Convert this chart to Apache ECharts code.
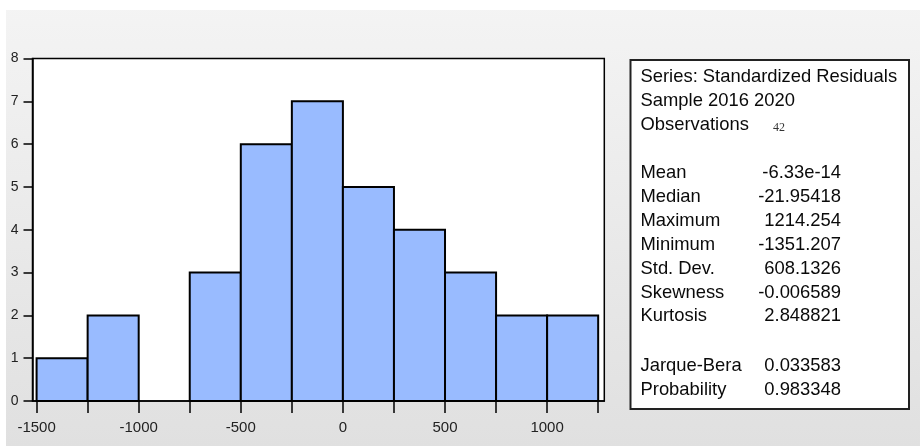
<!DOCTYPE html>
<html>
<head>
<meta charset="utf-8">
<script src="https://cdn.jsdelivr.net/npm/echarts@6/dist/echarts.min.js"></script>
<style>
html,body{margin:0;padding:0;background:#fff;}
#chart{width:920px;height:446px;}
</style>
</head>
<body>
<div id="chart"></div>
<script>
// ---- data ----
const binStarts = [-1500, -1250, -1000, -750, -500, -250, 0, 250, 500, 750, 1000];
const binWidth = 250;
const counts = [1, 2, 0, 3, 6, 7, 5, 4, 3, 2, 2];
const xTickValues = [-1500, -1250, -1000, -750, -500, -250, 0, 250, 500, 750, 1000, 1250];
const xLabelValues = [-1500, -1000, -500, 0, 500, 1000];
const yTickValues = [0, 1, 2, 3, 4, 5, 6, 7, 8];
const headerLines = ['Series: Standardized Residuals', 'Sample 2016 2020', 'Observations'];
const observations = '42';
const statNames = ['Mean', 'Median', 'Maximum', 'Minimum', 'Std. Dev.', 'Skewness', 'Kurtosis'];
const statValues = ['-6.33e-14', '-21.95418', '1214.254', '-1351.207', '608.1326', '-0.006589', '2.848821'];
const testNames = ['Jarque-Bera', 'Probability'];
const testValues = ['0.033583', '0.983348'];

const histData = binStarts.map((s, i) => [s, s + binWidth, counts[i]]);

const FONT = '"Liberation Sans", Arial, sans-serif';
const TXT = '#0a0a0a';
const statFont = 18.4;

const graphics = [];
// white strips at top and left
graphics.push({type:'rect', z:-10, shape:{x:0,y:0,width:920,height:10}, style:{fill:'#ffffff'}});
graphics.push({type:'rect', z:-10, shape:{x:0,y:0,width:6,height:446}, style:{fill:'#ffffff'}});
// stats box
graphics.push({type:'rect', shape:{x:630.5,y:60,width:278.5,height:349}, style:{fill:'#ffffff', stroke:'#222', lineWidth:2}});
const lx = 640.5, rx = 841;
const hdrY = [77, 101, 125];
headerLines.forEach((t, i) => {
  graphics.push({type:'text', x:lx, y:hdrY[i], style:{text:t, font:`${statFont}px ${FONT}`, fill:TXT, textVerticalAlign:'middle', textAlign:'left'}});
});
graphics.push({type:'text', x:773, y:128, style:{text:observations, font:`12px "Liberation Serif", serif`, fill:'#333', textVerticalAlign:'middle', textAlign:'left'}});
const statY0 = 173, step = 23.9;
statNames.forEach((t, i) => {
  const y = statY0 + i * step;
  graphics.push({type:'text', x:lx, y:y, style:{text:t, font:`${statFont}px ${FONT}`, fill:TXT, textVerticalAlign:'middle', textAlign:'left'}});
  graphics.push({type:'text', x:rx, y:y, style:{text:statValues[i], font:`${statFont}px ${FONT}`, fill:TXT, textVerticalAlign:'middle', textAlign:'right'}});
});
const testY0 = 366;
testNames.forEach((t, i) => {
  const y = testY0 + i * step;
  graphics.push({type:'text', x:lx, y:y, style:{text:t, font:`${statFont}px ${FONT}`, fill:TXT, textVerticalAlign:'middle', textAlign:'left'}});
  graphics.push({type:'text', x:rx, y:y, style:{text:testValues[i], font:`${statFont}px ${FONT}`, fill:TXT, textVerticalAlign:'middle', textAlign:'right'}});
});

const chart = echarts.init(document.getElementById('chart'), null, {renderer:'canvas'});
chart.setOption({
  animation:false,
  backgroundColor:{type:'linear', x:0, y:0, x2:0, y2:1, colorStops:[{offset:0,color:'#f4f4f4'},{offset:1,color:'#e0e0e0'}]},
  grid:{left:32.5, right:315.7, top:58.5, bottom:45, show:true, backgroundColor:'#ffffff', borderColor:'#000', borderWidth:1.5},
  xAxis:{
    type:'value', min:-1520, max:1280,
    splitLine:{show:false},
    axisLine:{show:true, onZero:false, lineStyle:{color:'#000', width:1.5}},
    axisTick:{show:true, inside:false, length:12, lineStyle:{color:'#000', width:1.5}, customValues:xTickValues},
    axisLabel:{show:true, margin:19, color:'#222', fontSize:15, fontFamily:FONT, customValues:xLabelValues, formatter:v=>String(v)}
  },
  yAxis:{
    type:'value', min:0, max:8,
    splitLine:{show:false},
    axisLine:{show:true, onZero:false, lineStyle:{color:'#000', width:1.5}},
    axisTick:{show:true, inside:false, length:9, lineStyle:{color:'#000', width:1.5}, customValues:yTickValues},
    axisLabel:{show:true, margin:14, color:'#222', fontSize:14, fontFamily:FONT, customValues:yTickValues}
  },
  series:[{
    type:'custom',
    data:histData,
    encode:{x:[0,1], y:2},
    clip:false,
    renderItem:function(params, api){
      const lo = api.value(0), hi = api.value(1), n = api.value(2);
      if (!n) return null;
      const p0 = api.coord([lo, n]);
      const p1 = api.coord([hi, 0]);
      return {type:'rect', shape:{x:p0[0], y:p0[1], width:p1[0]-p0[0], height:p1[1]-p0[1]},
        style:{fill:'#99bbff', stroke:'#000', lineWidth:2}};
    }
  }],
  graphic:graphics
});
</script>
</body>
</html>
